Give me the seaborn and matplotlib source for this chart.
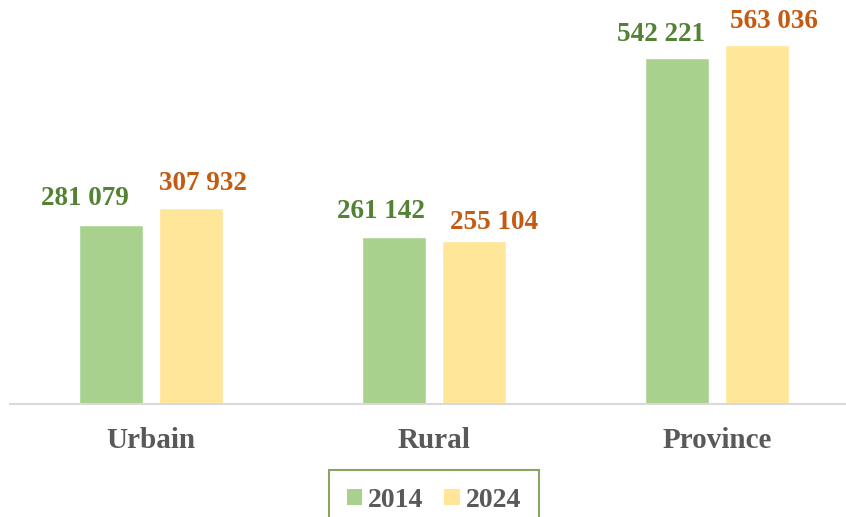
import matplotlib
matplotlib.use("Agg")
import matplotlib.pyplot as plt
from matplotlib.patches import Patch
import seaborn as sns
import pandas as pd

# ==========================================
# DATA
# ==========================================
categories = ["Urbain", "Rural", "Province"]
years = ["2014", "2024"]
values_2014 = [281079, 261142, 542221]
values_2024 = [307932, 255104, 563036]

df = pd.DataFrame({
    "zone": categories * 2,
    "year": [years[0]] * 3 + [years[1]] * 3,
    "value": values_2014 + values_2024,
})

bar_colors = ["#A9D18E", "#FFE699"]
label_colors = ["#548235", "#C55A11"]
# label shifts in pixels (dx, dy) per year, per category
label_shift = [
    [(-26, 20), (-13, 19), (-16, 17)],
    [(12, 18), (20, 12), (17, 17)],
]

# ==========================================
# PLOT
# ==========================================
sns.set_style("white")
plt.rcParams["font.family"] = ["Liberation Serif", "DejaVu Serif"]

fig = plt.figure(figsize=(8.46, 5.17), dpi=100)
ax = fig.add_axes([9.5 / 846, 113 / 517, 849 / 846, 404 / 517])

sns.barplot(data=df, x="zone", y="value", hue="year", palette=bar_colors,
            width=0.565, gap=0.2, saturation=1, legend=False, ax=ax)

ax.set_xlim(-0.5, 2.5)
ax.set_ylim(0, 633600)

for i, cont in enumerate(ax.containers):
    for j, bar in enumerate(cont.patches):
        v = bar.get_height()
        dx, dy = label_shift[i][j]
        ax.annotate(f"{int(v):,}".replace(",", " "),
                    xy=(bar.get_x() + bar.get_width() / 2, v),
                    xytext=(dx, dy), textcoords="offset pixels",
                    ha="center", va="baseline", fontsize=19.5,
                    fontweight="bold", color=label_colors[i])

for s in ["top", "right", "left"]:
    ax.spines[s].set_visible(False)
ax.spines["bottom"].set_color("#D9D9D9")
ax.spines["bottom"].set_linewidth(1.5)
ax.set_yticks([])
ax.set_xlabel("")
ax.set_ylabel("")
ax.tick_params(axis="x", length=0, pad=16.5)
for lbl in ax.get_xticklabels():
    lbl.set_fontsize(21)
    lbl.set_fontweight("bold")
    lbl.set_color("#595959")

# legend box runs past the bottom edge, like the original
handles = [Patch(facecolor=c, edgecolor="none", label=y) for c, y in zip(bar_colors, years)]
leg = fig.legend(handles=handles, loc="upper center", bbox_to_anchor=(434 / 846, 1 - 470 / 517),
                 ncol=2, frameon=True, fancybox=False, handlelength=0.55, handleheight=0.55,
                 handletextpad=0.22, columnspacing=0.75, borderpad=0.64, borderaxespad=0,
                 prop={"size": 20, "weight": "bold"})
leg.get_frame().set_edgecolor("#6A8F3A")
leg.get_frame().set_linewidth(1.5)
for t in leg.get_texts():
    t.set_color("#595959")

fig.savefig("out.png", dpi=100)
